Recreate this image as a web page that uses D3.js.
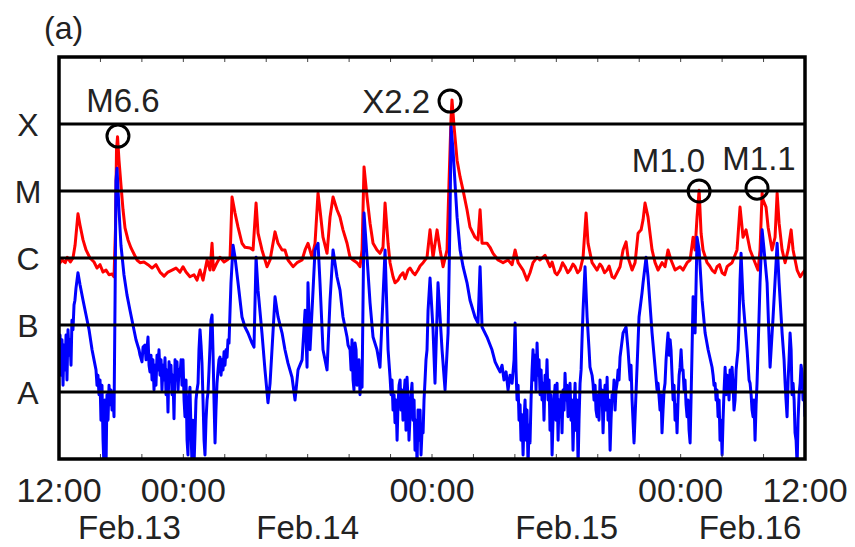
<!DOCTYPE html>
<html>
<head>
<meta charset="utf-8">
<script src="https://cdn.jsdelivr.net/npm/d3@7"></script>
<style>
  body { margin: 0; background: #fff; }
  text { font-family: "Liberation Sans", Arial, Helvetica, sans-serif; fill: #222; }
</style>
</head>
<body>
<div id="chart"></div>
<script>
// GOES X-ray flux, 2011 Feb 13 12:00 UT - Feb 16 12:00 UT
// [hours since start, log10 flux in W/m^2]
const longChannel = [
  [0,-6.09],[0.3,-6.03],[0.6,-6.07],[0.8,-5.99],[1.1,-6.06],[1.35,-6.0],[1.55,-5.81],[1.83,-5.34],[2.03,-5.51],[2.32,-5.73],
  [2.61,-5.88],[2.99,-6.0],[3.38,-6.06],[3.67,-6.15],[3.96,-6.1],[4.25,-6.21],[4.54,-6.18],[4.83,-6.25],[5.12,-6.24],[5.31,-6.28],
  [5.45,-5.58],[5.55,-4.39],[5.65,-4.19],[5.79,-4.54],[5.98,-4.91],[6.18,-5.28],[6.37,-5.55],[6.66,-5.73],[6.95,-5.85],[7.24,-5.94],
  [7.53,-6.03],[7.82,-6.07],[8.2,-6.06],[8.59,-6.1],[8.98,-6.15],[9.36,-6.1],[9.75,-6.21],[10.14,-6.27],[10.52,-6.21],[10.91,-6.18],
  [11.29,-6.15],[11.68,-6.21],[11.97,-6.13],[12.26,-6.21],[12.64,-6.28],[13.03,-6.25],[13.32,-6.33],[13.61,-6.18],[13.9,-6.33],[14.29,-6.03],
  [14.58,-6.18],[14.77,-5.78],[14.91,-6.18],[15.25,-6.07],[15.54,-5.99],[15.93,-6.06],[16.22,-6.03],[16.51,-5.99],[16.7,-5.09],[16.99,-5.33],
  [17.28,-5.54],[17.66,-5.78],[17.95,-5.84],[18.44,-5.85],[18.73,-5.88],[19.02,-5.18],[19.21,-5.63],[19.59,-5.88],[20.08,-6.13],[20.37,-6.03],
  [20.85,-5.61],[21.14,-5.78],[21.53,-5.88],[21.81,-5.88],[22.1,-6.03],[22.59,-6.13],[22.97,-6.07],[23.46,-6.03],[23.75,-5.88],[24.03,-5.78],
  [24.42,-5.99],[24.71,-5.78],[25.0,-5.03],[25.19,-5.28],[25.48,-5.69],[25.87,-5.93],[26.16,-5.39],[26.45,-5.09],[26.83,-5.28],[27.12,-5.39],
  [27.41,-5.58],[27.8,-5.78],[28.09,-5.99],[28.38,-6.03],[28.76,-6.07],[29.05,-6.13],[29.25,-5.88],[29.44,-4.64],[29.73,-5.09],[30.02,-5.48],
  [30.31,-5.78],[30.69,-5.88],[30.98,-5.93],[31.27,-5.84],[31.47,-5.18],[31.76,-5.78],[31.95,-6.07],[32.24,-6.28],[32.43,-6.37],[32.72,-6.33],
  [32.92,-6.27],[33.2,-6.22],[33.4,-6.31],[33.69,-6.18],[33.88,-6.15],[34.17,-6.22],[34.36,-6.25],[34.65,-6.18],[34.85,-6.12],[35.14,-6.07],
  [35.52,-5.99],[35.81,-5.58],[36.1,-5.99],[36.49,-5.58],[36.78,-5.88],[37.07,-6.13],
  [37.45,-5.88],[37.64,-4.88],[37.84,-3.9],[37.93,-3.64],[38.13,-4.04],[38.42,-4.54],[38.71,-4.79],[39.0,-4.99],[39.38,-5.28],[39.67,-5.54],
  [40.15,-5.69],[40.44,-5.73],[40.64,-5.28],[40.83,-5.78],[41.31,-5.78],[41.6,-5.84],[41.89,-5.93],[42.37,-6.03],[42.86,-6.07],[43.34,-6.03],
  [43.73,-6.1],[44.02,-5.88],[44.31,-6.07],[44.79,-6.18],[45.17,-6.33],[45.46,-6.22],[45.75,-6.07],[46.14,-5.99],[46.43,-6.03],[46.91,-5.96],
  [47.39,-6.13],[47.59,-6.06],[47.88,-6.22],[48.07,-6.25],[48.36,-6.18],[48.6,-6.07],[48.84,-6.13],[49.1,-6.22],[49.32,-6.18],[49.6,-6.09],
  [49.81,-6.13],[50.05,-6.22],[50.29,-6.18],[50.58,-5.99],[50.87,-5.33],[51.06,-5.78],
  [51.45,-6.07],[51.93,-6.18],[52.2,-6.09],[52.41,-6.13],[52.65,-6.22],[52.9,-6.18],[53.1,-6.12],[53.38,-6.28],[53.6,-6.3],[53.86,-6.22],
  [54.15,-6.13],[54.44,-5.88],[54.73,-5.76],[54.92,-5.99],
  [55.31,-6.18],[55.6,-6.07],[55.89,-5.63],[56.18,-5.58],[56.37,-5.43],[56.56,-5.18],[56.85,-5.39],[57.24,-5.88],[57.53,-6.07],[57.82,-6.18],
  [58.2,-6.07],[58.49,-6.13],[58.78,-5.88],[59.07,-6.03],[59.46,-6.18],[59.94,-6.13],[60.23,-6.18],[60.62,-6.07],[60.91,-6.03],[61.2,-5.69],
  [61.39,-5.88],[61.58,-5.39],[61.78,-4.99],[61.97,-5.63],[62.16,-5.88],[62.55,-6.07],[62.8,-6.12],[63.03,-6.18],[63.3,-6.22],[63.51,-6.13],
  [63.75,-6.1],[64.0,-6.22],[64.25,-6.25],[64.48,-6.13],[64.7,-6.1],
  [64.96,-6.07],[65.44,-5.88],[65.73,-5.24],[66.02,-5.69],[66.31,-5.58],[66.7,-5.88],[67.18,-6.07],[67.47,-6.18],[67.66,-5.88],[67.86,-5.03],
  [67.95,-5.13],[68.24,-5.24],[68.44,-5.54],[68.82,-5.88],[69.11,-5.69],[69.31,-5.03],[69.5,-5.48],[69.79,-5.88],[70.08,-6.07],[70.37,-5.88],
  [70.66,-5.58],[70.85,-5.88],[71.24,-6.18],[71.53,-6.28],[71.81,-6.22],[72.0,-6.18]
];

const shortChannel = [
  [0,-7.52],[0.1,-7.15],[0.19,-7.75],[0.29,-7.22],[0.39,-7.9],[0.48,-7.3],[0.58,-7.67],[0.68,-7.15],[0.77,-7.82],[0.87,-7.07],
  [0.97,-7.45],[1.06,-7.22],[1.16,-7.6],[1.25,-6.93],[1.35,-7.07],[1.45,-6.7],[1.54,-6.63],[1.64,-6.45],[1.83,-6.22],
  [2.03,-6.4],[2.32,-6.63],[2.61,-6.85],[2.9,-7.07],[3.19,-7.37],[3.38,-7.52],
  [3.57,-7.67],[3.67,-7.9],[3.76,-7.75],[3.86,-8.04],[3.96,-7.82],[4.05,-8.42],[4.15,-7.9],[4.25,-8.72],[4.34,-9.1],[4.44,-8.12],
  [4.54,-9.1],[4.63,-8.04],[4.73,-8.42],[4.83,-7.9],[4.92,-8.19],[5.02,-7.97],[5.12,-8.27],[5.21,-8.04],[5.31,-8.37],[5.41,-6.63],
  [5.5,-4.84],[5.6,-4.66],[5.79,-5.28],[5.98,-5.81],[6.27,-6.25],[6.56,-6.55],[6.85,-6.78],[7.14,-7.0],[7.43,-7.22],[7.72,-7.37],
  [7.82,-7.45],[8.01,-7.55],[8.11,-7.33],[8.3,-7.3],[8.4,-7.52],[8.59,-7.18],[8.69,-7.6],[8.78,-7.7],[8.88,-7.45],[8.98,-7.82],
  [9.07,-7.52],[9.17,-7.97],[9.27,-7.6],[9.36,-7.9],[9.46,-7.45],[9.56,-7.67],[9.65,-7.37],[9.75,-7.75],[9.85,-7.52],[9.94,-7.97],
  [10.04,-7.6],[10.14,-7.82],[10.23,-7.49],[10.33,-8.04],[10.42,-7.67],[10.52,-8.3],[10.62,-7.55],[10.71,-7.82],[10.81,-7.6],[10.91,-8.04],
  [11.0,-7.75],[11.1,-8.4],[11.2,-7.52],[11.29,-7.82],[11.39,-7.55],[11.49,-7.97],[11.58,-7.67],[11.68,-7.75],[11.78,-7.52],[11.87,-7.9],
  [11.97,-7.52],[12.07,-8.12],[12.16,-8.37],[12.26,-7.82],[12.36,-8.72],[12.45,-8.94],[12.55,-8.12],[12.64,-7.93],[12.74,-8.57],[12.84,-9.1],
  [12.93,-8.42],[13.03,-9.1],[13.13,-8.61],[13.22,-8.12],[13.32,-7.97],[13.42,-7.87],[13.51,-7.37],[13.61,-7.07],[13.71,-7.3],[13.8,-7.57],
  [13.9,-8.12],[14.0,-8.72],[14.09,-8.94],[14.19,-8.42],[14.29,-8.12],[14.38,-8.01],[14.48,-7.67],[14.58,-7.3],[14.67,-6.93],[14.77,-6.85],
  [14.86,-7.37],[14.96,-8.12],[15.06,-8.76],[15.15,-8.27],[15.25,-7.87],[15.35,-7.67],[15.44,-7.52],[15.54,-7.48],[15.64,-7.75],[15.73,-7.52],
  [15.83,-7.67],[15.93,-7.4],[16.02,-7.6],[16.12,-7.37],[16.22,-7.48],[16.31,-7.22],[16.41,-7.27],[16.51,-6.78],[16.6,-6.37],[16.8,-5.81],
  [16.99,-5.99],[17.28,-6.37],[17.66,-6.88],[17.95,-7.03],[18.24,-7.12],[18.63,-7.27],[18.82,-7.33],[19.02,-5.99],[19.21,-6.48],[19.59,-7.12],
  [19.88,-7.67],[20.17,-8.16],[20.37,-7.87],[20.85,-6.58],[21.14,-6.88],[21.53,-7.12],[21.81,-7.37],[22.1,-7.57],[22.49,-7.78],[22.78,-8.12],
  [23.07,-7.67],[23.46,-7.52],[23.75,-6.78],[23.94,-7.63],[24.03,-6.37],[24.23,-7.37],[24.52,-6.48],[24.71,-5.88],[25.0,-5.78],[25.19,-6.37],
  [25.48,-7.37],[25.87,-7.67],[26.16,-6.63],[26.45,-5.88],[26.83,-6.28],[27.12,-6.48],[27.41,-6.88],[27.8,-7.18],[27.9,-7.3],[28.09,-7.37],
  [28.19,-7.67],[28.28,-7.22],[28.38,-7.82],[28.47,-7.97],[28.57,-7.27],[28.67,-7.37],[28.76,-7.9],[28.86,-7.78],[28.96,-7.52],[29.05,-8.04],
  [29.15,-7.75],[29.25,-7.93],[29.44,-5.33],[29.73,-5.99],[30.02,-6.67],[30.31,-7.18],[30.69,-7.37],[30.98,-7.63],[31.47,-5.88],
  [31.76,-7.37],[31.95,-7.78],[32.05,-8.04],[32.14,-7.82],[32.24,-8.27],[32.34,-8.04],[32.43,-8.46],[32.53,-8.12],[32.63,-8.72],[32.72,-8.19],
  [32.82,-7.9],[32.92,-7.82],[33.01,-8.27],[33.11,-7.97],[33.2,-8.42],[33.3,-8.04],[33.4,-7.82],[33.49,-8.57],[33.59,-7.78],[33.69,-8.12],
  [33.78,-8.72],[33.88,-8.37],[33.98,-8.04],[34.07,-7.87],[34.17,-8.42],[34.27,-8.12],[34.36,-8.87],[34.46,-8.42],[34.56,-9.1],[34.65,-8.27],
  [34.75,-8.72],[34.85,-8.27],[34.94,-8.94],[35.04,-8.57],[35.14,-8.61],[35.23,-8.12],[35.33,-7.82],[35.42,-7.52],[35.52,-7.37],[35.62,-6.78],
  [35.81,-6.3],[36.1,-7.07],[36.29,-7.87],[36.58,-6.37],[36.97,-7.37],[37.26,-7.97],[37.55,-7.12],[37.74,-5.39],[37.84,-4.04],[38.03,-4.39],
  [38.42,-5.39],[38.71,-5.88],[39.0,-6.13],[39.38,-6.37],[39.67,-6.63],[40.15,-6.88],[40.44,-6.97],[40.64,-6.13],[40.83,-7.03],[41.31,-7.18],
  [41.79,-7.37],[42.09,-7.55],[42.37,-7.64],[42.57,-7.7],[42.76,-7.6],[42.95,-7.82],[43.15,-7.7],[43.34,-7.97],[43.53,-7.75],[43.73,-7.87],
  [43.92,-7.52],[44.02,-6.97],[44.11,-7.67],[44.21,-8.12],[44.31,-7.9],[44.4,-8.42],[44.5,-8.19],[44.59,-8.72],[44.69,-8.34],[44.79,-8.94],
  [44.88,-8.42],[44.98,-8.12],[45.08,-8.72],[45.17,-8.27],[45.27,-9.1],[45.37,-8.49],[45.46,-8.76],[45.56,-8.12],[45.66,-7.67],[45.75,-7.37],
  [45.85,-7.82],[45.95,-7.45],[46.04,-7.97],[46.14,-7.27],[46.24,-7.75],[46.33,-7.52],[46.43,-8.04],[46.53,-7.67],[46.62,-8.12],[46.72,-7.87],
  [46.81,-8.42],[46.91,-7.75],[47.01,-7.97],[47.1,-7.52],[47.2,-8.12],[47.3,-7.82],[47.39,-8.57],[47.49,-8.04],[47.59,-8.94],[47.68,-8.42],
  [47.78,-8.12],[47.88,-7.9],[47.97,-8.42],[48.07,-7.87],[48.17,-8.72],[48.26,-8.12],[48.36,-8.37],[48.46,-8.04],[48.55,-8.61],[48.65,-7.97],
  [48.75,-8.27],[48.84,-7.72],[48.94,-8.12],[49.03,-7.9],[49.13,-8.37],[49.23,-8.04],[49.32,-7.87],[49.42,-8.42],[49.52,-8.12],[49.61,-8.87],
  [49.71,-8.27],[49.81,-7.87],[49.9,-8.57],[50.0,-8.12],[50.1,-9.1],[50.19,-8.42],[50.29,-7.87],[50.39,-7.67],[50.48,-7.22],[50.58,-6.78],
  [50.77,-6.13],[50.97,-6.88],[51.16,-7.37],[51.25,-7.63],[51.45,-7.75],[51.54,-7.87],[51.64,-8.12],[51.74,-7.9],[51.83,-8.27],[51.93,-8.37],
  [52.03,-8.04],[52.12,-8.42],[52.22,-7.82],[52.32,-8.19],[52.41,-7.97],[52.51,-8.61],[52.61,-8.12],[52.7,-7.9],[52.8,-8.27],[52.9,-7.78],
  [52.99,-8.42],[53.09,-8.12],[53.19,-8.87],[53.28,-8.42],[53.38,-8.04],[53.47,-8.12],[53.57,-7.82],[53.67,-8.27],[53.76,-7.97],[53.86,-7.87],
  [53.96,-7.67],[54.05,-7.82],[54.15,-7.48],[54.44,-7.12],[54.73,-7.03],[54.92,-7.37],[55.12,-7.82],[55.21,-7.6],[55.31,-8.12],[55.5,-8.76],
  [55.79,-7.63],[55.98,-6.88],[56.27,-6.52],[56.37,-6.37],[56.66,-5.99],[56.85,-6.28],[57.24,-7.12],[57.53,-7.63],[57.72,-7.97],[57.82,-7.87],
  [58.01,-8.27],[58.11,-8.04],[58.2,-8.61],[58.3,-8.27],[58.4,-7.97],[58.49,-7.87],[58.59,-7.52],[58.69,-7.3],[58.78,-7.12],[58.88,-7.45],
  [58.98,-7.22],[59.07,-7.37],[59.17,-7.75],[59.27,-8.12],[59.36,-7.9],[59.46,-8.42],[59.56,-8.19],[59.65,-8.61],[59.75,-8.12],[59.85,-7.75],
  [59.94,-7.63],[60.04,-7.37],[60.14,-7.67],[60.23,-7.67],[60.33,-7.97],[60.42,-7.82],[60.52,-8.19],[60.62,-8.37],[60.71,-8.12],[60.81,-8.57],
  [60.91,-8.76],[61.0,-8.12],[61.1,-7.37],[61.2,-6.58],[61.39,-7.12],[61.58,-5.69],[61.78,-5.88],[62.07,-6.63],[62.36,-7.12],[62.65,-7.37],
  [63.03,-7.63],[63.13,-7.75],[63.22,-7.9],[63.32,-7.87],[63.42,-8.12],[63.51,-7.97],[63.61,-8.37],[63.71,-8.12],[63.8,-8.72],[63.9,-8.42],
  [64.0,-8.94],[64.09,-8.42],[64.19,-7.97],[64.29,-7.63],[64.38,-8.04],[64.48,-7.75],[64.58,-7.87],[64.67,-8.12],[64.77,-7.67],[64.86,-7.97],
  [64.96,-7.63],[65.06,-7.9],[65.15,-8.27],[65.25,-8.12],[65.35,-7.67],[65.44,-7.52],[65.54,-7.37],[65.64,-6.93],[65.73,-6.33],[65.83,-5.93],
  [66.02,-6.63],[66.41,-7.37],[66.51,-7.6],[66.6,-7.82],[66.7,-7.87],[66.8,-8.04],[66.89,-8.27],[66.99,-8.37],[67.08,-8.12],[67.18,-8.72],
  [67.28,-8.19],[67.37,-7.87],[67.47,-7.37],[67.66,-6.37],[67.86,-5.58],[68.05,-5.88],[68.34,-6.37],[68.63,-7.63],[68.92,-6.88],[69.31,-5.78],
  [69.5,-6.37],[69.79,-7.12],[69.98,-7.52],[70.08,-7.87],[70.17,-8.12],[70.27,-8.37],[70.37,-7.82],[70.46,-7.52],[70.56,-7.12],[70.66,-7.37],
  [70.75,-8.04],[70.85,-7.87],[70.95,-8.12],[71.04,-8.61],[71.14,-8.72],[71.24,-9.1],[71.33,-8.42],[71.43,-8.04],[71.53,-7.87],[71.62,-7.6],
  [71.72,-7.72],[71.81,-8.12],[71.91,-7.97],[72.0,-8.37]
];

const classNames = ["A", "B", "C", "M", "X"];
const classFlux = [1e-8, 1e-7, 1e-6, 1e-5, 1e-4];

const flareNames = ["M6.6", "X2.2", "M1.0", "M1.1"];
const flareHours = [5.69, 37.74, 61.78, 67.37];
const flareFlux = [6.6e-5, 2.2e-4, 1.0e-5, 1.1e-5];

const timeLabelHours = [0, 12, 36, 60, 72];
const dateLabels = ["Feb.13", "Feb.14", "Feb.15", "Feb.16"];
const dateLabelHours = [6.8, 24, 49, 66.7];

const t0 = Date.UTC(2011, 1, 13, 12);
const toDate = h => new Date(t0 + h * 3600e3);

const width = 855, height = 547;
const plotLeft = 59, plotRight = 805, plotTop = 57, plotBottom = 459;

const svg = d3.select("#chart").append("svg")
  .attr("width", width)
  .attr("height", height);

const x = d3.scaleUtc()
  .domain([toDate(0), toDate(72)])
  .range([plotLeft, plotRight]);

const y = d3.scaleLog()
  .domain([1e-9, 1e-3])
  .range([plotBottom, plotTop]);

svg.append("clipPath").attr("id", "plot")
  .append("rect")
  .attr("x", plotLeft).attr("y", plotTop)
  .attr("width", plotRight - plotLeft).attr("height", plotBottom - plotTop);

const line = d3.line()
  .x(d => x(toDate(d[0])))
  .y(d => y(Math.pow(10, d[1])));

const series = svg.append("g").attr("clip-path", "url(#plot)");

series.append("path")
  .datum(longChannel)
  .attr("d", line)
  .attr("fill", "none")
  .attr("stroke", "#ff0000")
  .attr("stroke-width", 3)
  .attr("stroke-linejoin", "round");

series.append("path")
  .datum(shortChannel)
  .attr("d", line)
  .attr("fill", "none")
  .attr("stroke", "#0000ff")
  .attr("stroke-width", 3)
  .attr("stroke-linejoin", "round");

// flare class levels
svg.selectAll(".level")
  .data(classFlux)
  .enter()
  .append("line")
  .attr("class", "level")
  .attr("x1", plotLeft).attr("x2", plotRight)
  .attr("y1", d => y(d)).attr("y2", d => y(d))
  .attr("stroke", "#000")
  .attr("stroke-width", 3);

svg.selectAll(".classLabel")
  .data(classNames)
  .enter()
  .append("text")
  .attr("class", "classLabel")
  .attr("x", 28)
  .attr("y", (d, i) => y(classFlux[i]))
  .attr("dy", "0.36em")
  .attr("text-anchor", "middle")
  .style("font-size", "32px")
  .text(d => d);

// small inward ticks every 4 hours
const ticks = x.ticks(d3.utcHour.every(4)).filter(t => t > x.domain()[0] && t < x.domain()[1]);
const tickG = svg.append("g");
ticks.forEach(t => {
  tickG.append("line")
    .attr("x1", x(t)).attr("x2", x(t))
    .attr("y1", plotTop).attr("y2", plotTop + 5)
    .attr("stroke", "#444").attr("stroke-width", 1);
  tickG.append("line")
    .attr("x1", x(t)).attr("x2", x(t))
    .attr("y1", plotBottom).attr("y2", plotBottom - 5)
    .attr("stroke", "#444").attr("stroke-width", 1);
});

svg.append("rect")
  .attr("x", plotLeft).attr("y", plotTop)
  .attr("width", plotRight - plotLeft).attr("height", plotBottom - plotTop)
  .attr("fill", "none")
  .attr("stroke", "#000")
  .attr("stroke-width", 3.5);

const fmt = d3.utcFormat("%H:%M");
svg.selectAll(".timeLabel")
  .data(timeLabelHours)
  .enter()
  .append("text")
  .attr("class", "timeLabel")
  .attr("x", d => x(toDate(d)))
  .attr("y", 502)
  .attr("text-anchor", "middle")
  .style("font-size", "34px")
  .text(d => fmt(toDate(d)));

svg.selectAll(".dateLabel")
  .data(dateLabels)
  .enter()
  .append("text")
  .attr("class", "dateLabel")
  .attr("x", (d, i) => x(toDate(dateLabelHours[i])))
  .attr("y", 539)
  .attr("text-anchor", "middle")
  .style("font-size", "33px")
  .text(d => d);

// flare markers
const labelPos = [
  { dx: 5, dy: -24, anchor: "middle" },
  { dx: -20, dy: 12, anchor: "end" },
  { dx: 6, dy: -19, anchor: "end" },
  { dx: 2, dy: -18, anchor: "middle" }
];

flareNames.forEach((name, i) => {
  const cx = x(toDate(flareHours[i]));
  const cy = y(flareFlux[i]);
  svg.append("circle")
    .attr("cx", cx).attr("cy", cy).attr("r", 11)
    .attr("fill", "none")
    .attr("stroke", "#000")
    .attr("stroke-width", 3);
  svg.append("text")
    .attr("x", cx + labelPos[i].dx)
    .attr("y", cy + labelPos[i].dy)
    .attr("text-anchor", labelPos[i].anchor)
    .style("font-size", "33px")
    .text(name);
});

svg.append("text")
  .attr("x", 44).attr("y", 39)
  .style("font-size", "32px")
  .text("(a)");
</script>
</body>
</html>
